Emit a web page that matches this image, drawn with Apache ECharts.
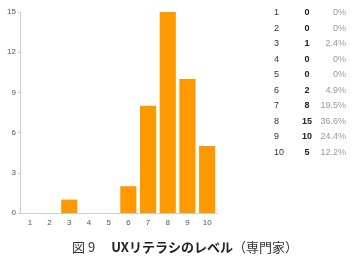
<!DOCTYPE html>
<html><head><meta charset="utf-8">
<script src="https://cdn.jsdelivr.net/npm/echarts@6/dist/echarts.min.js"></script>
<style>html,body{margin:0;padding:0;background:#fff}#c{width:352px;height:263px}</style>
</head><body><div id="c"></div>
<script>
var categories = ['1','2','3','4','5','6','7','8','9','10'];
var counts = [0,0,1,0,0,2,8,15,10,5];
var percents = ['0%','0%','2.4%','0%','0%','4.9%','19.5%','36.6%','24.4%','12.2%'];
var yTicks = [0,3,6,9,12,15];

var chart = echarts.init(document.getElementById('c'));
var graphics = [];
var rowTop = 13, rowStep = 15.45;
categories.forEach(function(c, i){
  var y = rowTop + i*rowStep;
  graphics.push({type:'text', x:274, y:y, style:{text:c, fontSize:9, fontFamily:'Liberation Sans, Arial', fill:'#333', align:'left', verticalAlign:'middle'}});
  graphics.push({type:'text', x:307, y:y, style:{text:String(counts[i]), fontSize:9, fontWeight:'bold', fontFamily:'Liberation Sans, Arial', fill:'#222', align:'center', verticalAlign:'middle'}});
  graphics.push({type:'text', x:346, y:y, style:{text:percents[i], fontSize:9, fontFamily:'Liberation Sans, Arial', fill:'#999', align:'right', verticalAlign:'middle'}});
});
graphics.push({type:'text', x:185, y:247, style:{
  rich:{a:{fontSize:13, fill:'#333', fontFamily:'Noto Sans CJK JP'}, b:{fontSize:13, fontWeight:'bold', fill:'#222', fontFamily:'Noto Sans CJK JP'}},
  text:'{a|図 9　 }{b|UXリテラシのレベル}{a|（専門家）}', align:'center', verticalAlign:'middle'}});

chart.setOption({
  animation:false,
  grid:{left:20, right:135, top:12, bottom:50},
  xAxis:{type:'category', data:categories,
    axisLine:{lineStyle:{color:'#ccc'}}, axisTick:{show:false},
    axisLabel:{color:'#555', fontSize:8, margin:6, fontFamily:'Liberation Sans, Arial'}},
  yAxis:{type:'value', min:0, max:15, interval:3,
    axisLine:{show:true, lineStyle:{color:'#ccc'}}, axisTick:{show:true, length:2, lineStyle:{color:'#ccc'}},
    splitLine:{show:false},
    axisLabel:{color:'#555', fontSize:8, margin:4, fontFamily:'Liberation Sans, Arial'}},
  series:[{type:'bar', data:counts, barCategoryGap:'18%', itemStyle:{color:'#FF9900'}}],
  graphic:graphics
});
</script></body></html>
